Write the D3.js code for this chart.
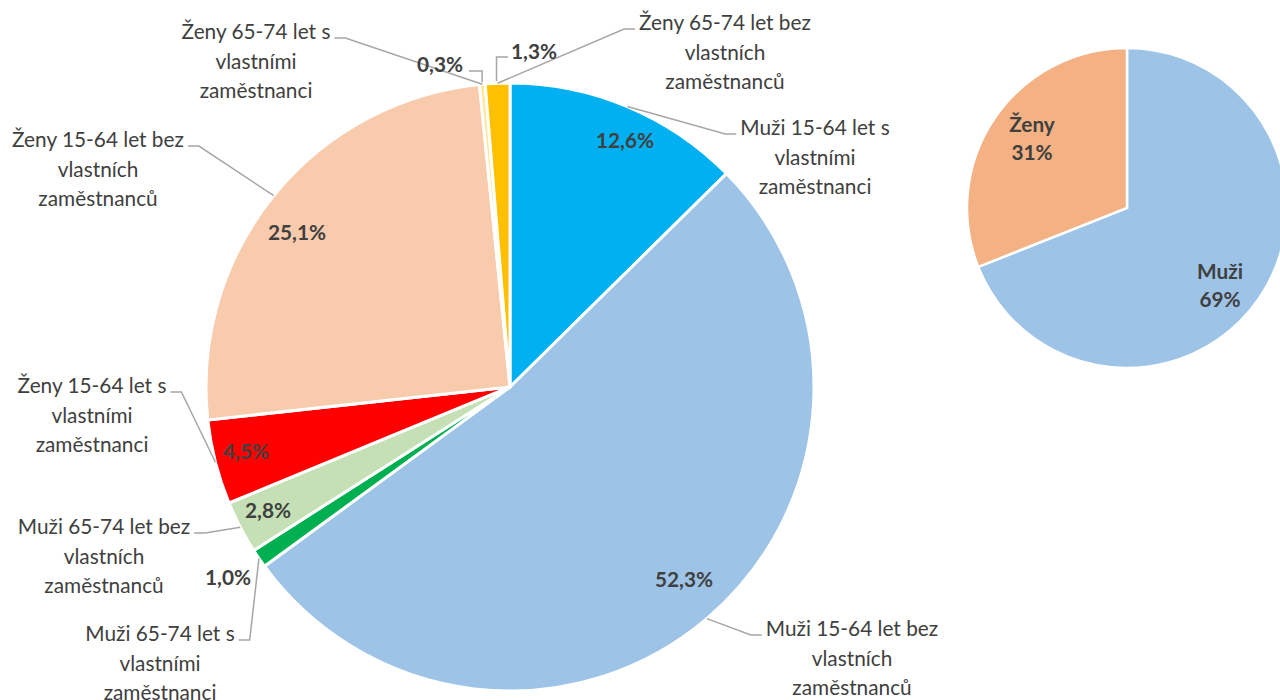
<!DOCTYPE html>
<html>
<head>
<meta charset="utf-8">
<script src="https://cdn.jsdelivr.net/npm/d3@7"></script>
<style>
  html, body { margin: 0; padding: 0; background: #fff; }
  svg { display: block; }
  text { font-family: Lato, "Open Sans", sans-serif; }
</style>
</head>
<body>
<svg id="chart" width="1280" height="700"></svg>
<script>
// ---- data ----
const categories = [
  "Muži 15-64 let s vlastními zaměstnanci",
  "Muži 15-64 let bez vlastních zaměstnanců",
  "Muži 65-74 let s vlastními zaměstnanci",
  "Muži 65-74 let bez vlastních zaměstnanců",
  "Ženy 15-64 let s vlastními zaměstnanci",
  "Ženy 15-64 let bez vlastních zaměstnanců",
  "Ženy 65-74 let s vlastními zaměstnanci",
  "Ženy 65-74 let bez vlastních zaměstnanců"
];
const values = [12.6, 52.3, 1.0, 2.8, 4.5, 25.1, 0.3, 1.3];
const colors = ["#00B0F0", "#9DC3E6", "#00B050", "#C5E0B4", "#FF0000", "#F8CBAD", "#FFE699", "#FFC000"];
const categoryLines = [
  ["Muži 15-64 let s", "vlastními", "zaměstnanci"],
  ["Muži 15-64 let bez", "vlastních", "zaměstnanců"],
  ["Muži 65-74 let s", "vlastními", "zaměstnanci"],
  ["Muži 65-74 let bez", "vlastních", "zaměstnanců"],
  ["Ženy 15-64 let s", "vlastními", "zaměstnanci"],
  ["Ženy 15-64 let bez", "vlastních", "zaměstnanců"],
  ["Ženy 65-74 let s", "vlastními", "zaměstnanci"],
  ["Ženy 65-74 let bez", "vlastních", "zaměstnanců"]
];
const genderCategories = ["Muži", "Ženy"];
const genderValues = [69, 31];
const genderColors = ["#9DC3E6", "#F4B183"];

// ---- layout (label placement) ----
const main = { cx: 510, cy: 387, r: 304 };
const side = { cx: 1127, cy: 208, r: 160 };
// category label: centre x, first-line y, leader elbow side ("L" = label left of pie)
const catLayout = [
  { x: 815, y: 128, side: "L" },
  { x: 852, y: 629, side: "L" },
  { x: 160, y: 634, side: "R" },
  { x: 104, y: 527, side: "R" },
  { x: 92,  y: 386, side: "R" },
  { x: 98,  y: 140, side: "R" },
  { x: 256, y: 32,  side: "R" },
  { x: 725, y: 23,  side: "L" }
];
// percentage label centres
const pctLayout = [
  [625, 141], [684, 580], [228, 578], [268, 511],
  [246, 452], [297, 233], [440, 65], [534, 52]
];
const sideLayout = [[1220, 286], [1032, 139]];
const lineH = 29.5;
const fontSize = 20.8;

const svg = d3.select("#chart");
const fmt = v => d3.format(".1f")(v).replace(".", ",") + "%";
const leaderColor = "#A6A6A6";
const textColor = "#404040";

// ---- main pie ----
const pie = d3.pie().sort(null).value(d => d)(values);
const arc = d3.arc().innerRadius(0).outerRadius(main.r);
const gMain = svg.append("g").attr("transform", `translate(${main.cx},${main.cy})`);
gMain.selectAll("path").data(pie).join("path")
  .attr("d", arc)
  .attr("fill", (d, i) => colors[i])
  .attr("stroke", "#fff")
  .attr("stroke-width", 3)
  .attr("stroke-linejoin", "round");

// leader lines + category labels
pie.forEach((d, i) => {
  const a = (d.startAngle + d.endAngle) / 2;
  const px = main.cx + main.r * Math.sin(a);
  const py = main.cy - main.r * Math.cos(a);
  const L = catLayout[i];
  const lines = categoryLines[i];
  const t = svg.append("text")
    .attr("text-anchor", "middle")
    .attr("font-size", fontSize)
    .attr("fill", textColor);
  lines.forEach((s, k) => {
    t.append("tspan").attr("x", L.x).attr("y", L.y + k * lineH).attr("dy", "0.35em").text(s);
  });
  const tmp = svg.append("text").attr("font-size", fontSize).text(lines[0]);
  const firstW = tmp.node().getComputedTextLength();
  tmp.remove();
  const ly = L.y + 6;
  let x0, x1;
  if (L.side === "R") { x0 = L.x + firstW / 2 + 4; x1 = x0 + 11; }
  else { x0 = L.x - firstW / 2 - 4; x1 = x0 - 11; }
  svg.append("path")
    .attr("d", d3.line()([[x0, ly], [x1, ly], [px, py]]))
    .attr("fill", "none").attr("stroke", leaderColor).attr("stroke-width", 1.5);
});

// percentage labels
pie.forEach((d, i) => {
  const [x, y] = pctLayout[i];
  svg.append("text")
    .attr("x", x).attr("y", y).attr("dy", "0.35em")
    .attr("text-anchor", "middle")
    .attr("font-size", fontSize).attr("font-weight", "bold")
    .attr("fill", textColor)
    .text(fmt(values[i]));
});

// bracket leaders for the tiny outside percentage labels (0,3% / 1,3%)
[6, 7].forEach(i => {
  const d = pie[i];
  const a = (d.startAngle + d.endAngle) / 2;
  const px = main.cx + (main.r + 2) * Math.sin(a);
  const py = main.cy - (main.r + 2) * Math.cos(a);
  const [x, y] = pctLayout[i];
  const pts = i === 6
    ? [[x + 29, y + 6], [px, y + 6], [px, py]]
    : [[x - 26, y + 5], [px - 1, y + 5], [px - 1, py]];
  svg.append("path")
    .attr("d", d3.line()(pts))
    .attr("fill", "none").attr("stroke", leaderColor).attr("stroke-width", 1.5);
});

// ---- side pie ----
const pie2 = d3.pie().sort(null).value(d => d)(genderValues);
const arc2 = d3.arc().innerRadius(0).outerRadius(side.r);
const gSide = svg.append("g").attr("transform", `translate(${side.cx},${side.cy})`);
gSide.selectAll("path").data(pie2).join("path")
  .attr("d", arc2)
  .attr("fill", (d, i) => genderColors[i])
  .attr("stroke", "#fff")
  .attr("stroke-width", 2.5);
pie2.forEach((d, i) => {
  const [x, y] = sideLayout[i];
  const t = svg.append("text")
    .attr("text-anchor", "middle")
    .attr("font-size", fontSize).attr("font-weight", "bold")
    .attr("fill", textColor);
  t.append("tspan").attr("x", x).attr("y", y - 14).attr("dy", "0.35em").text(genderCategories[i]);
  t.append("tspan").attr("x", x).attr("y", y + 14).attr("dy", "0.35em").text(genderValues[i] + "%");
});
</script>
</body>
</html>
